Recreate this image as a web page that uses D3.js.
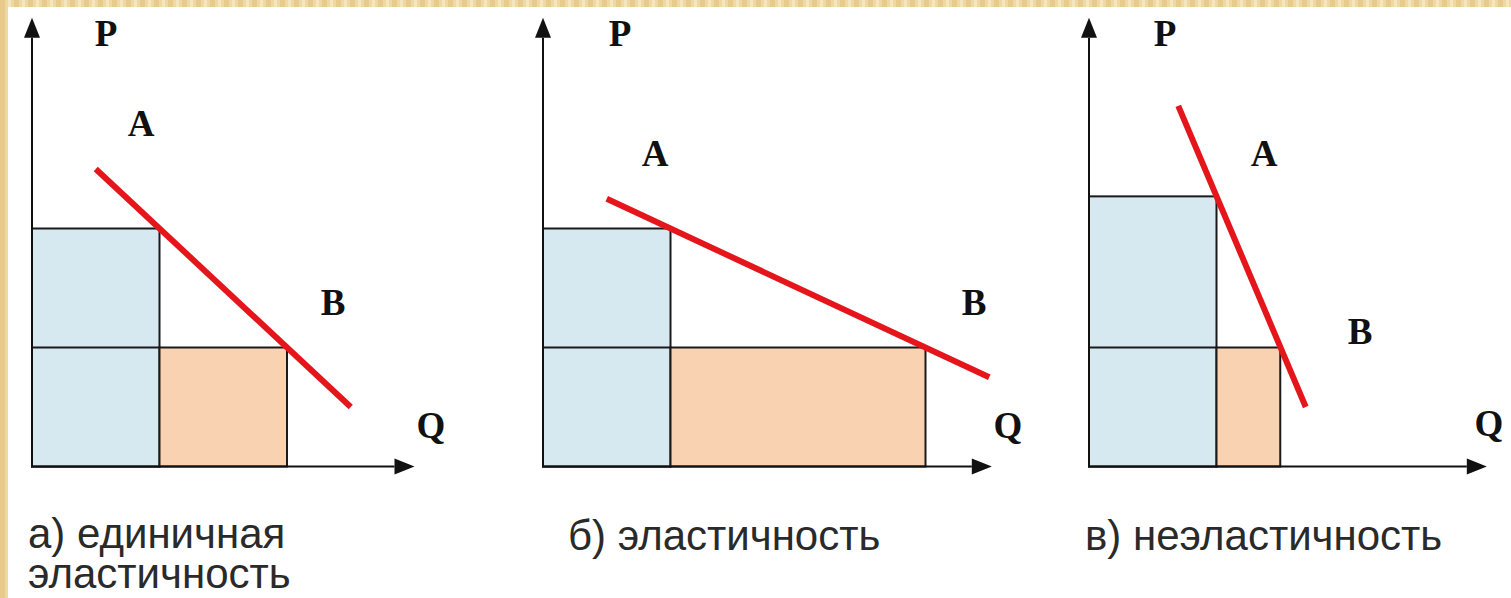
<!DOCTYPE html>
<html>
<head>
<meta charset="utf-8">
<script src="https://cdn.jsdelivr.net/npm/d3@7"></script>
<style>
  html, body { margin: 0; padding: 0; background: #fff; }
  svg { display: block; }
</style>
</head>
<body>
<div id="chart"></div>
<script>
// --- data (units of Q and P) ---
var captions = [["а) единичная", "эластичность"], ["б) эластичность"], ["в) неэластичность"]];
var pointA = [[1, 2], [1, 2], [1, 2.27]];
var pointB = [[2, 1], [3, 1], [1.5, 1]];
var demandLines = [
    [[0.5, 2.5], [2.5, 0.5]],
    [[0.5, 2.25], [3.5, 0.75]],
    [[0.7, 3.03], [1.7, 0.5]]
];
var axisMaxQ = [3.0, 3.52, 3.12];
var axisMaxP = 3.77;
var pointNames = ["P", "Q", "A", "B"];

// --- layout (pixels) ---
var width = 1511, height = 598;
var origins = [[32, 466.5], [543, 466.5], [1089, 466.5]];
// label positions relative to origin: P, Q, A, B
var labelPos = [
    [[74, -421], [399, -29], [109, -331], [301, -152]],
    [[77, -421], [465, -29], [112, -301], [431, -152]],
    [[76, -421], [400, -31], [175, -301], [271, -123]]
];
var captionPos = [[28, 548], [568, 550], [1085, 550]];

var svg = d3.select("#chart").append("svg")
    .attr("width", width).attr("height", height);

// gold frame texture on top and left edges
var defs = svg.append("defs");
var pat = defs.append("pattern").attr("id", "gold")
    .attr("patternUnits", "userSpaceOnUse").attr("width", 14).attr("height", 14);
pat.append("rect").attr("width", 14).attr("height", 14).attr("fill", "#efd9a3");
pat.append("rect").attr("x", 0).attr("y", 0).attr("width", 5).attr("height", 14).attr("fill", "#e8cb8a");
pat.append("rect").attr("x", 8).attr("y", 0).attr("width", 3).attr("height", 14).attr("fill", "#f5e6c0");

svg.append("rect").attr("width", width).attr("height", height).attr("fill", "#fff");
svg.append("rect").attr("x", 0).attr("y", 0).attr("width", width).attr("height", 7).attr("fill", "url(#gold)");
svg.append("rect").attr("x", 0).attr("y", 0).attr("width", 8).attr("height", height).attr("fill", "url(#gold)");

var x = d3.scaleLinear().domain([0, 1]).range([0, 127.5]);
var y = d3.scaleLinear().domain([0, 1]).range([0, -119]);

var line = d3.line()
    .x(function (d) { return x(d[0]); })
    .y(function (d) { return y(d[1]); });

var arrowLen = 20, arrowHalf = 8;

captions.forEach(function (cap, i) {
    var g = svg.append("g")
        .attr("transform", "translate(" + origins[i][0] + "," + origins[i][1] + ")");
    var A = pointA[i], B = pointB[i];

    // blue: price * quantity at A
    g.append("rect")
        .attr("x", x(0)).attr("y", y(A[1]))
        .attr("width", x(A[0]) - x(0)).attr("height", y(0) - y(A[1]))
        .attr("fill", "#d6e9f1").attr("stroke", "#1a1a1a").attr("stroke-width", 2);
    g.append("rect")
        .attr("x", x(0)).attr("y", y(B[1]))
        .attr("width", x(A[0]) - x(0)).attr("height", y(0) - y(B[1]))
        .attr("fill", "#d6e9f1").attr("stroke", "#1a1a1a").attr("stroke-width", 2);
    // orange: extra revenue at B
    g.append("rect")
        .attr("x", x(A[0])).attr("y", y(B[1]))
        .attr("width", x(B[0]) - x(A[0])).attr("height", y(0) - y(B[1]))
        .attr("fill", "#f9d2b1").attr("stroke", "#1a1a1a").attr("stroke-width", 2);

    // axes
    var qEnd = x(axisMaxQ[i]), pEnd = y(axisMaxP);
    g.append("path")
        .attr("d", "M0," + (pEnd + arrowLen) + "V0H" + (qEnd - arrowLen))
        .attr("fill", "none").attr("stroke", "#111").attr("stroke-width", 2);
    g.append("path")
        .attr("d", "M0," + pEnd + "L" + arrowHalf + "," + (pEnd + arrowLen) + "L" + (-arrowHalf) + "," + (pEnd + arrowLen) + "Z")
        .attr("fill", "#111");
    g.append("path")
        .attr("d", "M" + qEnd + ",0L" + (qEnd - arrowLen) + "," + (-arrowHalf) + "L" + (qEnd - arrowLen) + "," + arrowHalf + "Z")
        .attr("fill", "#111");

    // demand line
    g.append("path").datum(demandLines[i])
        .attr("d", line)
        .attr("fill", "none").attr("stroke", "#e4161c").attr("stroke-width", 6);

    // letters
    g.selectAll("text.lbl").data(pointNames).enter().append("text")
        .attr("class", "lbl")
        .attr("x", function (d, j) { return labelPos[i][j][0]; })
        .attr("y", function (d, j) { return labelPos[i][j][1]; })
        .attr("text-anchor", "middle")
        .style("font-family", "'Liberation Serif', 'Times New Roman', serif")
        .style("font-weight", "bold")
        .style("font-size", "37px")
        .style("fill", "#111")
        .text(function (d) { return d; });

    // caption (each line its own text element)
    svg.selectAll(null).data(cap).enter().append("text")
        .attr("x", captionPos[i][0])
        .attr("y", function (d, j) { return captionPos[i][1] + j * 40; })
        .style("font-family", "'Liberation Sans', Arial, sans-serif")
        .style("font-size", "42px")
        .style("fill", "#2a2a2a")
        .text(function (d) { return d; });
});
</script>
</body>
</html>
